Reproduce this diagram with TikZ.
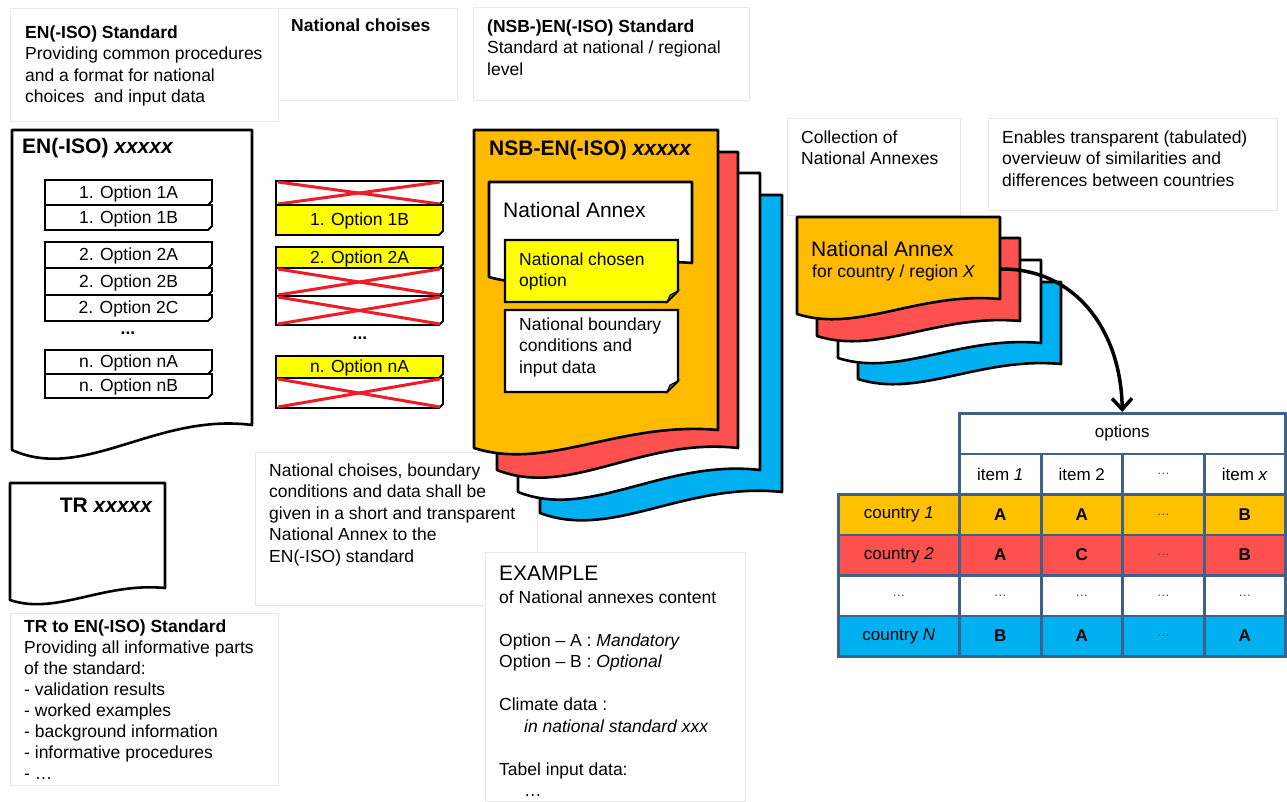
\documentclass[tikz,border=0pt]{standalone}
\usepackage{fontspec}
\setmainfont{Liberation Sans}
\usetikzlibrary{arrows.meta}

\definecolor{docorange}{HTML}{FFBB00}
\definecolor{tblorange}{HTML}{FFC000}
\definecolor{nred}{HTML}{FF5050}
\definecolor{nblue}{HTML}{00B0F0}
\definecolor{nyellow}{HTML}{FFFF00}
\definecolor{xred}{HTML}{EE1C24}
\definecolor{tblborder}{HTML}{3F6189}
\definecolor{panelline}{HTML}{E8E8E8}

\tikzset{
  panel/.style={draw=panelline, line width=1pt, fill=white},
  txt/.style={font=\fontsize{17.5}{21.5}\selectfont, align=left, inner sep=0pt, anchor=north west},
  big/.style={font=\fontsize{21}{25}\selectfont, inner sep=0pt, anchor=base west},
  doc/.style={draw=black, line width=2.6pt, line join=round},
  optline/.style={draw=black, line width=1.8pt, line join=miter},
  cross/.style={draw=xred, line width=3pt},
  cell/.style={draw=tblborder, line width=2.5pt, minimum height=40.5pt, inner sep=0pt,
    font=\fontsize{17}{20}\selectfont, anchor=north west},
  dotsc/.style={text=black!70, font=\fontsize{13}{15}\selectfont},
}

% page with a wavy lower edge: x0, top, x1, right-bottom y, left-bottom y, fill
\newcommand{\docpage}[6]{%
  \draw[doc, fill=#6] (#1,#2) -- (#3,#2) -- (#3,#4)
    .. controls ({#1+0.6*(#3-#1)},{#4-0.5*(#5-#4)}) and ({#1+0.3*(#3-#1)},{#5+1.3*(#5-#4)}) .. (#1,#5) -- cycle;}

% option strip with a small curled corner: name, x0, y0, x1, y1, fill, text
\newcommand{\optbox}[7]{%
  \path[optline, fill=#6] (#2,#3) -- (#4,#3) -- (#4,#5-4) -- (#4-4,#5) -- (#2,#5) -- cycle;
  \fill[black] (#4,#5-4) -- (#4-4,#5) -- (#4-1.5,#5-1.5) -- cycle;
  \node[font=\fontsize{17.5}{20}\selectfont, inner sep=0pt] (#1) at ({(#2+#4)/2},{(#3+#5)/2+1}) {#7};}

% rejected option: name, x0, y0, x1, y1
\newcommand{\xbox}[5]{%
  \optbox{#1}{#2}{#3}{#4}{#5}{white}{}
  \draw[cross] (#2+2,#3+1) -- (#4-3,#5-1);
  \draw[cross] (#2+2,#5-1) -- (#4-3,#3+1);}

% note with a folded corner: x0, y0, x1, y1, fill
\newcommand{\notebox}[5]{%
  \path[draw=black, line width=2.2pt, line join=miter, fill=#5] (#1,#2) -- (#3,#2) -- (#3,#4-11) -- (#3-11,#4) -- (#1,#4) -- cycle;
  \filldraw[black, line width=1pt, fill=black!65] (#3-11,#4) -- (#3-8,#4-7) -- (#3,#4-11) -- cycle;}

\begin{document}
\begin{tikzpicture}[x=1pt, y=-1pt]
\useasboundingbox (0,0) rectangle (1287,801);
\fill[white] (0,0) rectangle (1287,801);

% ---------- light caption panels ----------
\draw[panel] (270,8) rectangle (457,100);
\draw[panel] (10,8) rectangle (278,121);
\draw[panel] (473,7) rectangle (749,100);
\draw[panel] (787,118) rectangle (960,215);
\draw[panel] (988,118) rectangle (1277,210);
\draw[panel] (255,452) rectangle (537,605);
\draw[panel] (485,552) rectangle (745,801);
\draw[panel] (10,613) rectangle (278,785);

\node[txt] (stdnote) at (25,38-15) {\strut\textbf{EN(-ISO) Standard}\\Providing common procedures\\and a format for national\\choices\ \ and input data};
\node[txt] (chnote) at (291,31-15) {\strut\textbf{National choises}};
\node[txt] (nsbnote) at (487,32-15) {\strut\textbf{(NSB-)EN(-ISO) Standard}\\Standard at national / regional\\level};
\node[txt] (collnote) at (801,143-15) {\strut Collection of\\National Annexes};
\node[txt] (tabnote) at (1002,143-15) {\strut Enables transparent (tabulated)\\overvieuw of similarities and\\differences between countries};
\node[txt] (shortnote) at (269,476-15) {\strut National choises, boundary\\conditions and data shall be\\given in a short and transparent\\National Annex to the\\EN(-ISO) standard};
\node[big] (extitle) at (499,580) {EXAMPLE};
\node[txt] (exbody) at (499,603-15) {\strut of National annexes content\\[21.5pt]Option – A : \textit{Mandatory}\\Option – B : \textit{Optional}\\[21.5pt]Climate data :\\\hspace*{25pt}\textit{in national standard xxx}\\[21.5pt]Tabel input data:\\\hspace*{25pt}…};
\node[txt, font=\fontsize{17.5}{21}\selectfont] (trnote) at (24,633-15) {\strut\textbf{TR to EN(-ISO) Standard}\\Providing all informative parts\\of the standard:\\- validation results\\- worked examples\\- background information\\- informative procedures\\- …};

% ---------- EN(-ISO) document with its options ----------
\docpage{12}{130}{252}{425}{450}{white}
\node[big] (entitle) at (22,153) {\textbf{EN(-ISO) \textit{xxxxx}}};
\optbox{o1a}{45}{180}{212}{205}{white}{1. Option 1A}
\optbox{o1b}{45}{205}{212}{230}{white}{1. Option 1B}
\optbox{o2a}{45}{242}{212}{268}{white}{2. Option 2A}
\optbox{o2b}{45}{268}{212}{295}{white}{2. Option 2B}
\optbox{o2c}{45}{295}{212}{321}{white}{2. Option 2C}
\node[font=\fontsize{17.5}{20}\selectfont\bfseries] (odots) at (128,333) {...};
\optbox{ona}{45}{350}{212}{374}{white}{n. Option nA}
\optbox{onb}{45}{374}{212}{398}{white}{n. Option nB}

% ---------- national choices ----------
\xbox{c1x}{276}{181}{443}{205}
\optbox{c1b}{276}{205}{443}{235}{nyellow}{1. Option 1B}
\optbox{c2a}{276}{247}{443}{268}{nyellow}{2. Option 2A}
\xbox{c2bx}{276}{268}{443}{296}
\xbox{c2cx}{276}{296}{443}{325}
\node[font=\fontsize{17.5}{20}\selectfont\bfseries] (cdots) at (360,338) {...};
\optbox{cna}{276}{356}{443}{378}{nyellow}{n. Option nA}
\xbox{cnbx}{276}{378}{443}{408}

% ---------- TR document ----------
\docpage{10}{483}{165}{588}{600}{white}
\node[big, anchor=base east] (trtitle) at (153,512) {\textbf{TR \textit{xxxxx}}};

% ---------- national standards stack ----------
\docpage{540}{195}{782}{492}{513}{nblue}
\docpage{518}{173}{760}{470}{492}{white}
\docpage{497}{152}{738}{448}{470}{nred}
\docpage{474}{130}{718}{430}{448}{docorange}
\node[big] (nsbtitle) at (489,155) {\textbf{NSB-EN(-ISO) \textit{xxxxx}}};
\docpage{489}{182}{692}{263}{277}{white}
\node[big] (natitle) at (503,217) {National Annex};
\notebox{505}{240}{678}{302}{nyellow}
\node[txt] (chosen) at (519,265-15) {\strut National chosen\\option};
\notebox{505}{310}{678}{392}{white}
\node[txt] (bound) at (519,330-15) {\strut National boundary\\conditions and\\input data};

% ---------- collection of national annexes ----------
\docpage{858}{282}{1061}{364}{379}{nblue}
\docpage{838}{260}{1041}{343}{358}{white}
\docpage{817}{238}{1020}{321}{336}{nred}
\docpage{797}{217}{1000}{299}{314}{docorange}
\node[big] (natitle2) at (811,256) {National Annex};
\node[font=\fontsize{17.5}{20}\selectfont, inner sep=0pt, anchor=base west] (nasub) at (812,277) {for country / region \textit{X}};
\coordinate (naout) at (1000,269);

% ---------- overview table ----------
\node[cell, minimum width=326pt] (opts) at (958,412) {options};
\node[cell, minimum width=82pt] (i1) at (958,452.5) {item \textit{1}};
\node[cell, minimum width=81pt] (i2) at (1040,452.5) {item 2};
\node[cell, minimum width=82pt, dotsc] (i3) at (1121,452.5) {…};
\node[cell, minimum width=81pt] (i4) at (1203,452.5) {item \textit{x}};

\node[cell, fill=tblorange, minimum width=121pt] (r1) at (837,493) {country \textit{1}};
\node[cell, fill=tblorange, minimum width=82pt] (r1a) at (958,493) {\textbf{A}};
\node[cell, fill=tblorange, minimum width=81pt] (r1b) at (1040,493) {\textbf{A}};
\node[cell, fill=tblorange, minimum width=82pt, dotsc] (r1c) at (1121,493) {…};
\node[cell, fill=tblorange, minimum width=81pt] (r1d) at (1203,493) {\textbf{B}};

\node[cell, fill=nred, minimum width=121pt] (r2) at (837,533.5) {country \textit{2}};
\node[cell, fill=nred, minimum width=82pt] (r2a) at (958,533.5) {\textbf{A}};
\node[cell, fill=nred, minimum width=81pt] (r2b) at (1040,533.5) {\textbf{C}};
\node[cell, fill=nred, minimum width=82pt, dotsc] (r2c) at (1121,533.5) {…};
\node[cell, fill=nred, minimum width=81pt] (r2d) at (1203,533.5) {\textbf{B}};

\node[cell, fill=white, minimum width=121pt, dotsc] (r3) at (837,574) {…};
\node[cell, fill=white, minimum width=82pt, dotsc] (r3a) at (958,574) {…};
\node[cell, fill=white, minimum width=81pt, dotsc] (r3b) at (1040,574) {…};
\node[cell, fill=white, minimum width=82pt, dotsc] (r3c) at (1121,574) {…};
\node[cell, fill=white, minimum width=81pt, dotsc] (r3d) at (1203,574) {…};

\node[cell, fill=nblue, minimum width=121pt] (r4) at (837,614.5) {country \textit{N}};
\node[cell, fill=nblue, minimum width=82pt] (r4a) at (958,614.5) {\textbf{B}};
\node[cell, fill=nblue, minimum width=81pt] (r4b) at (1040,614.5) {\textbf{A}};
\node[cell, fill=nblue, minimum width=82pt, dotsc] (r4c) at (1121,614.5) {…};
\node[cell, fill=nblue, minimum width=81pt] (r4d) at (1203,614.5) {\textbf{A}};

% ---------- arrow from the annexes to the table ----------
\draw[line width=3.5pt, -{Straight Barb[length=11pt,width=20pt]}]
  (naout) .. controls (1075,268) and (1121,330) .. (opts.north);
\end{tikzpicture}
\end{document}
